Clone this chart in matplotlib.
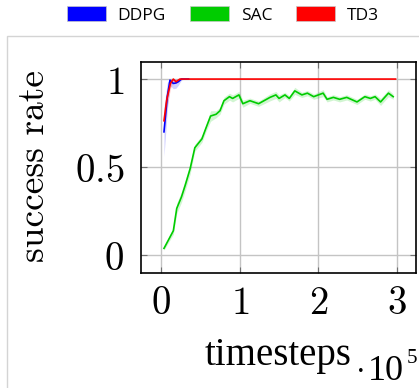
import matplotlib
matplotlib.use("Agg")
import matplotlib.pyplot as plt
from matplotlib.patches import Patch, Rectangle
import numpy as np

plt.rcParams['mathtext.fontset'] = 'cm'

# ---- data (x in units of 1e5 timesteps) ----
ddpg_x = [0.038, 0.08, 0.114, 0.157, 0.19, 0.22, 0.26, 0.30, 0.35]
ddpg_y = [0.70, 0.90, 0.994, 0.975, 0.978, 0.985, 1.0, 1.0, 1.0]
ddpg_band = [0.14, 0.08, 0.03, 0.03, 0.03, 0.02, 0.005, 0.0, 0.0]

td3_x = [0.038, 0.072, 0.12, 0.157, 0.19, 0.24, 0.30, 1.0, 2.0, 2.98]
td3_y = [0.763, 0.88, 0.975, 1.0, 0.985, 1.0, 1.0, 1.0, 1.0, 1.0]
td3_band = [0.06, 0.05, 0.03, 0.01, 0.01, 0.005, 0.0, 0.0, 0.0, 0.0]

sac_x = [0.038, 0.157, 0.20, 0.26, 0.31, 0.37, 0.43, 0.52, 0.57, 0.63, 0.70,
         0.75, 0.80, 0.87, 0.91, 0.99, 1.04, 1.13, 1.24, 1.385, 1.46, 1.50,
         1.575, 1.63, 1.70, 1.79, 1.86, 1.94, 2.06, 2.11, 2.19, 2.27, 2.36,
         2.49, 2.59, 2.66, 2.72, 2.79, 2.89, 2.95]
sac_y = [0.038, 0.138, 0.265, 0.33, 0.40, 0.49, 0.61, 0.66, 0.72, 0.79, 0.80,
         0.82, 0.877, 0.90, 0.89, 0.91, 0.86, 0.877, 0.86, 0.896, 0.91, 0.89,
         0.91, 0.89, 0.933, 0.91, 0.92, 0.90, 0.92, 0.885, 0.896, 0.885, 0.896,
         0.87, 0.90, 0.89, 0.90, 0.87, 0.92, 0.90]
sac_band = [0.01, 0.02, 0.03, 0.03, 0.03, 0.03, 0.02, 0.02, 0.02, 0.03, 0.02,
            0.02, 0.02, 0.02, 0.02, 0.02, 0.02, 0.015, 0.015, 0.02, 0.02, 0.02,
            0.015, 0.015, 0.02, 0.015, 0.015, 0.015, 0.02, 0.015, 0.015, 0.015, 0.015,
            0.015, 0.015, 0.015, 0.015, 0.02, 0.02, 0.015]

series = [("DDPG", ddpg_x, ddpg_y, ddpg_band, "#0000ff"),
          ("SAC", sac_x, sac_y, sac_band, "#00cc00"),
          ("TD3", td3_x, td3_y, td3_band, "#ff0000")]

x_ticks = [0, 1, 2, 3]
y_ticks = [0, 0.5, 1]
x_ticklabels = ["$0$", "$1$", "$2$", "$3$"]
y_ticklabels = ["$0$", "$0.5$", "$1$"]

W, H = 419, 388
fig = plt.figure(figsize=(W / 100, H / 100), dpi=100)

# outer light frame
fig.patches.append(Rectangle((7 / W, -0.1), 1.2, 1 - 36 / H + 0.1,
                             transform=fig.transFigure, fill=False,
                             edgecolor="#d4d4d4", linewidth=1.0))

ax = fig.add_axes([141 / W, 1 - 273 / H, (416 - 141) / W, (273 - 62) / H])

for name, x, y, b, c in series:
    x = np.array(x); y = np.array(y); b = np.array(b)
    ax.fill_between(x, np.clip(y - b, None, 1.0), np.clip(y + b, None, 1.0),
                    color=c, alpha=0.18, linewidth=0)
for name, x, y, b, c in [series[1], series[0], series[2]]:
    ax.plot(x, y, color=c, linewidth=1.2, zorder=3)

ax.set_xlim(-0.254, 3.24)
ax.set_ylim(-0.102, 1.097)
ax.set_xticks(x_ticks)
ax.set_xticklabels(x_ticklabels)
ax.set_yticks(y_ticks)
ax.set_yticklabels(y_ticklabels)
ax.grid(True, color="#c4c4c4", linewidth=1.0)
ax.set_axisbelow(True)
ax.tick_params(direction="in", length=4, width=0.8, color="#707070",
               top=True, right=True, labelsize=28)
ax.tick_params(axis="y", pad=12)
ax.tick_params(axis="x", pad=8)
for s in ax.spines.values():
    s.set_linewidth(1.2)
    s.set_color("black")

fig.text(34 / W, 1 - 166 / H, "success rate", fontfamily="cmr10", fontsize=27,
         rotation=90, ha="center", va="center")
fig.text(278 / W, 1 - 365 / H, "timesteps", fontfamily="Liberation Serif",
         fontsize=28, ha="center", va="baseline")
fig.text(356.5 / W, 1 - 372 / H, ".", fontfamily="Liberation Serif",
         fontsize=22, ha="left", va="baseline")
fig.text(368 / W, 1 - 379.5 / H, "10", fontfamily="Liberation Serif",
         fontsize=26, ha="left", va="baseline")
fig.text(407 / W, 1 - 363 / H, "5", fontfamily="Liberation Serif",
         fontsize=15, ha="left", va="baseline")

handles = [Patch(facecolor=c, edgecolor="#c8c8c8", linewidth=0.5) for _, _, _, _, c in series]
labels = [s[0] for s in series]
fs = 12.5
fpx = fs * 100 / 72
fig.legend(handles, labels, loc="center", bbox_to_anchor=(223 / W, 1 - 15 / H),
           ncol=3, frameon=False, prop={"family": "Open Sans", "size": fs},
           handlelength=39 / fpx, handleheight=16 / fpx, handletextpad=12 / fpx,
           columnspacing=24 / fpx, borderpad=0, borderaxespad=0)

fig.savefig("out.png", dpi=100)
